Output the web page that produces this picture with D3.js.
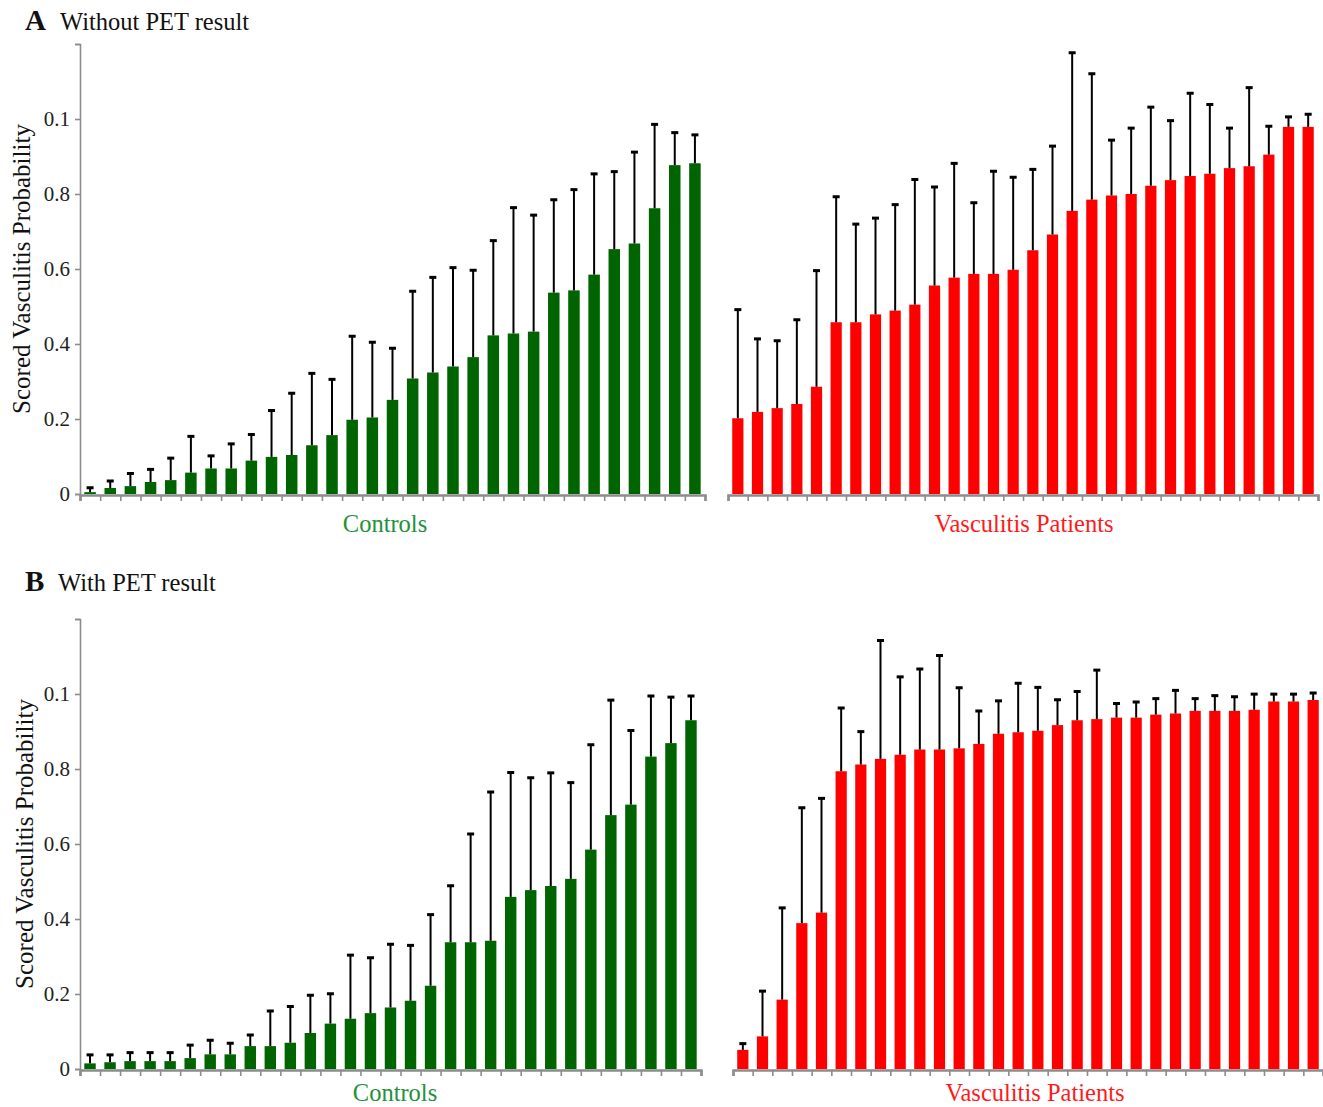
<!DOCTYPE html>
<html>
<head>
<meta charset="utf-8">
<script src="https://cdn.jsdelivr.net/npm/d3@7/dist/d3.min.js"></script>
<style>
  html, body { margin: 0; padding: 0; background: #fff; }
  svg { display: block; font-family: "Liberation Serif", "Times New Roman", serif; }
</style>
</head>
<body>
<svg id="chart" width="1323" height="1107"></svg>
<script>
// Y axis ticks (the top labelled tick reads "0.1" as printed on the figure)
const yTickValues = [0, 0.2, 0.4, 0.6, 0.8, 1.0, 1.2];
const yTickLabels = ["0", "0.2", "0.4", "0.6", "0.8", "0.1", ""];

// Panel A: without PET result — mean probability and upper error bound
const aControls = [0.005, 0.016, 0.021, 0.032, 0.037, 0.057, 0.068, 0.068, 0.089, 0.099,
  0.104, 0.130, 0.157, 0.198, 0.204, 0.251, 0.308, 0.324, 0.340, 0.365,
  0.423, 0.428, 0.433, 0.537, 0.543, 0.585, 0.653, 0.668, 0.762, 0.877, 0.882];
const aControlsUpper = [0.018, 0.036, 0.056, 0.067, 0.097, 0.155, 0.103, 0.135, 0.160, 0.224,
  0.270, 0.323, 0.307, 0.422, 0.406, 0.390, 0.542, 0.579, 0.605, 0.598,
  0.677, 0.765, 0.745, 0.786, 0.813, 0.855, 0.861, 0.913, 0.987, 0.965, 0.959];
const aPatients = [0.202, 0.219, 0.229, 0.240, 0.286, 0.458, 0.458, 0.479, 0.489, 0.505,
  0.556, 0.577, 0.587, 0.587, 0.598, 0.650, 0.692, 0.755, 0.785, 0.796,
  0.800, 0.822, 0.837, 0.848, 0.854, 0.869, 0.874, 0.905, 0.979, 0.979];
const aPatientsUpper = [0.493, 0.415, 0.410, 0.466, 0.597, 0.794, 0.721, 0.737, 0.773, 0.840,
  0.820, 0.883, 0.778, 0.862, 0.846, 0.867, 0.929, 1.178, 1.122, 0.945,
  0.977, 1.033, 0.997, 1.070, 1.040, 0.977, 1.085, 0.982, 1.007, 1.014];

// Panel B: with PET result
const bControls = [0.015, 0.018, 0.021, 0.021, 0.021, 0.029, 0.039, 0.039, 0.061, 0.061,
  0.070, 0.096, 0.121, 0.134, 0.149, 0.164, 0.182, 0.222, 0.338, 0.338,
  0.342, 0.459, 0.477, 0.488, 0.507, 0.585, 0.677, 0.705, 0.833, 0.869, 0.930];
const bControlsUpper = [0.039, 0.039, 0.045, 0.045, 0.045, 0.065, 0.078, 0.070, 0.092, 0.156,
  0.168, 0.198, 0.202, 0.305, 0.298, 0.334, 0.331, 0.413, 0.490, 0.628,
  0.740, 0.792, 0.778, 0.791, 0.765, 0.866, 0.985, 0.904, 0.996, 0.993, 0.996];
const bPatients = [0.051, 0.087, 0.185, 0.389, 0.417, 0.794, 0.812, 0.827, 0.838, 0.852,
  0.852, 0.855, 0.867, 0.894, 0.898, 0.902, 0.917, 0.930, 0.933, 0.937,
  0.937, 0.945, 0.948, 0.955, 0.955, 0.955, 0.958, 0.980, 0.980, 0.984];
const bPatientsUpper = [0.069, 0.209, 0.431, 0.698, 0.723, 0.964, 0.901, 1.144, 1.047, 1.068,
  1.104, 1.018, 0.956, 0.983, 1.030, 1.019, 0.986, 1.008, 1.065, 0.976,
  0.980, 0.989, 1.011, 0.989, 0.997, 0.994, 1.001, 1.001, 1.001, 1.004];

const panelTitles = [["A", "Without PET result"], ["B", "With PET result"]];
const groupNames = ["Controls", "Vasculitis Patients"];
const yAxisTitle = "Scored Vasculitis Probability";

const GREEN = "#006400", RED = "#ff0000";
const GREEN_TEXT = "#22913a", RED_TEXT = "#ff1a1a";
const AXIS_GREY = "#8c8c8c";

const svg = d3.select("#chart");

const panels = [
  {
    title: panelTitles[0], titleY: 30, titleX: 60,
    base: 494, top: 44, yLabelX: 21,
    groups: [
      { values: aControls, upper: aControlsUpper, range: [80, 705], fill: GREEN, name: groupNames[0], color: GREEN_TEXT, labelX: 385 },
      { values: aPatients, upper: aPatientsUpper, range: [728, 1318], fill: RED, name: groupNames[1], color: RED_TEXT, labelX: 1024 }
    ],
    labelY: 532
  },
  {
    title: panelTitles[1], titleY: 591, titleX: 58,
    base: 1069, top: 619, yLabelX: 24,
    groups: [
      { values: bControls, upper: bControlsUpper, range: [80, 701], fill: GREEN, name: groupNames[0], color: GREEN_TEXT, labelX: 395 },
      { values: bPatients, upper: bPatientsUpper, range: [733, 1323], fill: RED, name: groupNames[1], color: RED_TEXT, labelX: 1035 }
    ],
    labelY: 1101
  }
];

panels.forEach(p => {
  const g = svg.append("g");

  // panel heading
  g.append("text").attr("x", 25).attr("y", p.titleY).attr("fill", "#111")
    .attr("font-weight", "bold").attr("font-size", 29).text(p.title[0]);
  g.append("text").attr("x", p.titleX).attr("y", p.titleY)
    .attr("font-size", 24.5).attr("fill", "#111").text(p.title[1]);

  const y = d3.scaleLinear().domain([0, 1.2]).range([p.base, p.top]);

  // vertical axis
  const yAxis = d3.axisLeft(y)
    .tickValues(yTickValues)
    .tickFormat((d, i) => yTickLabels[i])
    .tickSize(5)
    .tickPadding(5);
  const ya = g.append("g").attr("transform", "translate(80,0)").call(yAxis);
  ya.select(".domain").attr("stroke", AXIS_GREY).attr("stroke-width", 1.6);
  ya.selectAll(".tick line").attr("stroke", AXIS_GREY).attr("stroke-width", 1.6);
  ya.selectAll(".tick text").attr("font-size", 21).attr("fill", "#222")
    .attr("font-family", "Liberation Serif, serif");

  g.append("text")
    .attr("transform", `translate(${p.yLabelX},${(p.top + p.base) / 2})`+ " rotate(-90)")
    .attr("text-anchor", "middle").attr("dominant-baseline", "central")
    .attr("font-size", 25).attr("fill", "#111").text(yAxisTitle);

  p.groups.forEach(gr => {
    const n = gr.values.length;
    const idx = d3.range(n);
    const x = d3.scaleBand().domain(idx).range(gr.range).paddingInner(0.43).paddingOuter(0.215);
    const slot = d3.scaleLinear().domain([0, n]).range(gr.range);

    // bars
    g.append("g").selectAll("rect").data(idx).join("rect")
      .attr("x", i => x(i)).attr("width", x.bandwidth())
      .attr("y", i => y(gr.values[i])).attr("height", i => y(0) - y(gr.values[i]))
      .attr("fill", gr.fill);

    // error bars (upper only)
    const eb = g.append("g").selectAll("g").data(idx).join("g");
    eb.append("line")
      .attr("x1", i => x(i) + x.bandwidth() / 2).attr("x2", i => x(i) + x.bandwidth() / 2)
      .attr("y1", i => y(gr.values[i])).attr("y2", i => y(gr.upper[i]))
      .attr("stroke", "#000").attr("stroke-width", 2);
    eb.append("rect")
      .attr("x", i => x(i) + x.bandwidth() / 2 - 3.5).attr("width", 7)
      .attr("y", i => y(gr.upper[i]) - 1).attr("height", 3)
      .attr("fill", "#000");

    // baseline with slot ticks
    const xAxis = d3.axisBottom(slot).tickValues(d3.range(n + 1)).tickSize(6).tickFormat("");
    const xa = g.append("g").attr("transform", `translate(0,${p.base + 1})`).call(xAxis);
    xa.select(".domain").attr("stroke", AXIS_GREY).attr("stroke-width", 2.6);
    xa.selectAll(".tick line").attr("stroke", AXIS_GREY).attr("stroke-width", 1.6);

    g.append("text").attr("x", gr.labelX).attr("y", p.labelY)
      .attr("text-anchor", "middle").attr("font-size", 24.5).attr("fill", gr.color)
      .text(gr.name);
  });
});
</script>
</body>
</html>
